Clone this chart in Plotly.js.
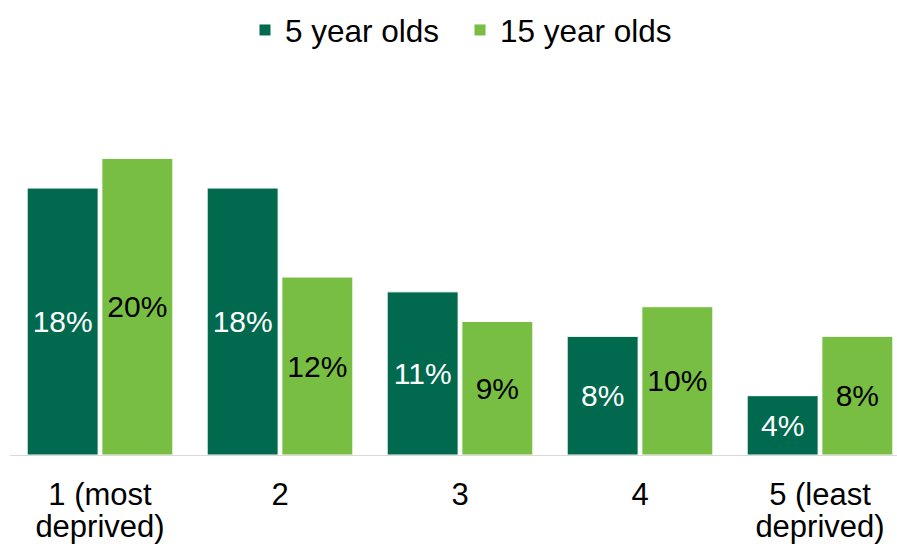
<!DOCTYPE html>
<html>
<head>
<meta charset="utf-8">
<script src="https://cdn.plot.ly/plotly-3.0.1.min.js"></script>
<style>html,body{margin:0;padding:0;background:#fff;}#chart{width:897px;height:544px;}</style>
</head>
<body>
<div id="chart"></div>
<script>
const categories = ["1 (most<br>deprived)", "2", "3", "4", "5 (least<br>deprived)"];
const fiveYearOlds = [18, 18, 11, 8, 4];
const fifteenYearOlds = [20, 12, 9, 10, 8];
const seriesNames = ["5 year olds", "15 year olds"];

const FONT = '"Liberation Sans", Arial, sans-serif';
const DARK = '#00694E';
const LIGHT = '#78BE43';

const tickText = categories.map(c => c.split('<br>').map(l => '<span style="font-size:31px">' + l + '</span>').join('<br>'));

const traces = [
  {
    type: 'bar', name: seriesNames[0], x: categories, y: fiveYearOlds,
    text: fiveYearOlds.map(v => v + '%'), textposition: 'inside', insidetextanchor: 'middle',
    textangle: 0, constraintext: 'none', hoverinfo: 'none',
    textfont: {family: FONT, size: 30, color: '#ffffff'},
    marker: {color: DARK, line: {color: '#ffffff', width: 1}}
  },
  {
    type: 'bar', name: seriesNames[1], x: categories, y: fifteenYearOlds,
    text: fifteenYearOlds.map(v => v + '%'), textposition: 'inside', insidetextanchor: 'middle',
    textangle: 0, constraintext: 'none', hoverinfo: 'none',
    textfont: {family: FONT, size: 30, color: '#000000'},
    marker: {color: LIGHT, line: {color: '#ffffff', width: 1}}
  }
];

const layout = {
  width: 897, height: 544,
  margin: {l: 10, r: 0, t: 70, b: 89},
  paper_bgcolor: '#ffffff', plot_bgcolor: '#ffffff',
  font: {family: FONT, size: 30, color: '#000000'},
  barmode: 'group', bargap: 0.17, bargroupgap: 0.05,
  showlegend: true,
  legend: {
    orientation: 'h', xref: 'container', yref: 'container',
    x: 460 / 897, xanchor: 'center', y: 1 - 30 / 544, yanchor: 'middle',
    font: {family: FONT, size: 31.5, color: '#000000'},
    itemwidth: 30, entrywidth: 170, entrywidthmode: 'pixels', bgcolor: 'rgba(0,0,0,0)'
  },
  xaxis: {
    type: 'category', range: [-0.5, -0.5 + 887 / 180],
    tickvals: categories, ticktext: tickText,
    showline: true, linecolor: '#d9d9d9', linewidth: 1,
    ticks: '', showgrid: false, zeroline: false,
    tickfont: {family: FONT, size: 24.5, color: '#000000'},
    ticklabelstandoff: 20
  },
  yaxis: {
    range: [0, 385 / 14.83], visible: false, showgrid: false, zeroline: false
  }
};

Plotly.newPlot('chart', traces, layout, {displayModeBar: false, staticPlot: true});
</script>
</body>
</html>
